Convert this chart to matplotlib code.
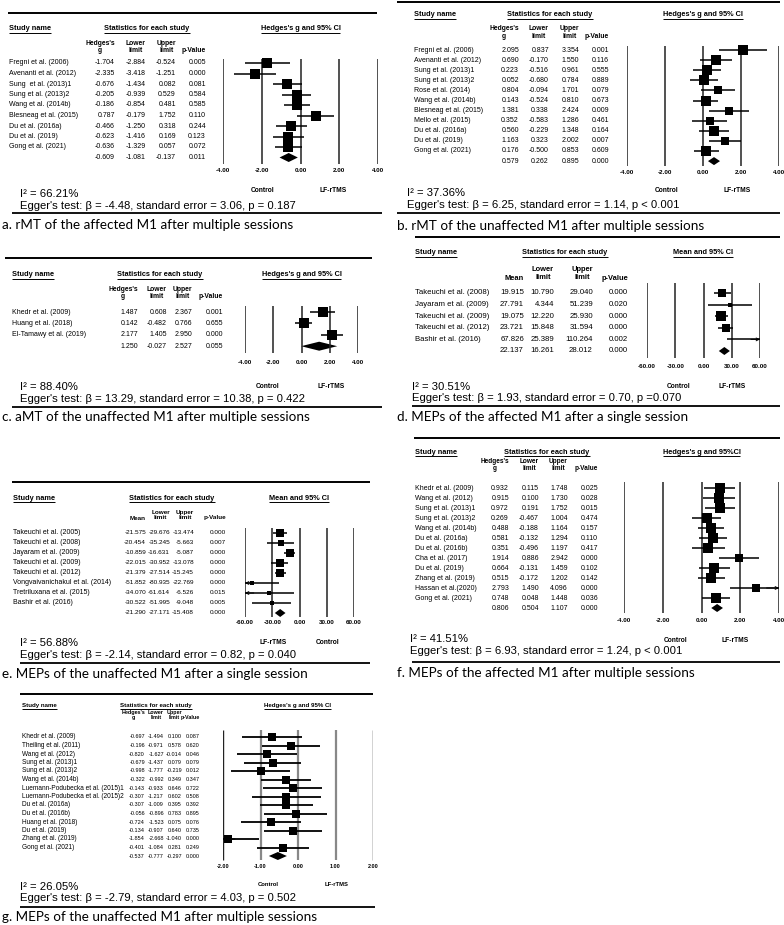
import matplotlib
matplotlib.use("Agg")
import matplotlib.pyplot as plt
from matplotlib.patches import Polygon

plt.rcParams['font.family'] = ['Liberation Sans', 'DejaVu Sans']

# ------------------------------------------------------------------ data
# a. rMT of the affected M1 after multiple sessions
names_a = ["Fregni et al. (2006)", "Avenanti et al. (2012)", "Sung  et al. (2013)1",
           "Sung et al. (2013)2", "Wang et al. (2014b)", "Blesneag et al. (2015)",
           "Du et al. (2016a)", "Du et al. (2019)", "Gong et al. (2021)"]
est_a = [-1.704, -2.335, -0.676, -0.205, -0.186, 0.787, -0.466, -0.623, -0.636]
lo_a = [-2.884, -3.418, -1.434, -0.939, -0.854, -0.179, -1.250, -1.416, -1.329]
hi_a = [-0.524, -1.251, 0.082, 0.529, 0.481, 1.752, 0.318, 0.169, 0.057]
p_a = [0.005, 0.000, 0.081, 0.584, 0.585, 0.110, 0.244, 0.123, 0.072]
wt_a = [1.0, 1.0, 1.0, 1.0, 1.0, 1.0, 1.0, 1.0, 1.0]
sum_a = [-0.609, -1.081, -0.137, 0.011]
i2_a = "I\u00b2 = 66.21%"
egger_a = "Egger's test: \u03b2 = -4.48, standard error = 3.06, p = 0.187"
title_a = "a. rMT of the affected M1 after multiple sessions"

# b. rMT of the unaffected M1 after multiple sessions
names_b = ["Fregni et al. (2006)", "Avenanti et al. (2012)", "Sung et al. (2013)1",
           "Sung et al. (2013)2", "Rose et al. (2014)", "Wang et al. (2014b)",
           "Blesneag et al. (2015)", "Mello et al. (2015)", "Du et al. (2016a)",
           "Du et al. (2019)", "Gong et al. (2021)"]
est_b = [2.095, 0.690, 0.223, 0.052, 0.804, 0.143, 1.381, 0.352, 0.560, 1.163, 0.176]
lo_b = [0.837, -0.170, -0.516, -0.680, -0.094, -0.524, 0.338, -0.583, -0.229, 0.323, -0.500]
hi_b = [3.354, 1.550, 0.961, 0.784, 1.701, 0.810, 2.424, 1.286, 1.348, 2.002, 0.853]
p_b = [0.001, 0.116, 0.555, 0.889, 0.079, 0.673, 0.009, 0.461, 0.164, 0.007, 0.609]
wt_b = [0.95, 0.95, 0.95, 0.95, 0.9, 0.95, 0.8, 0.9, 0.95, 0.9, 0.95]
sum_b = [0.579, 0.262, 0.895, 0.000]
i2_b = "I\u00b2 = 37.36%"
egger_b = "Egger's test: \u03b2 = 6.25, standard error = 1.14, p < 0.001"
title_b = "b. rMT of the unaffected M1 after multiple sessions"

# c. aMT of the unaffected M1 after multiple sessions
names_c = ["Khedr et al. (2009)", "Huang et al. (2018)", "El-Tamawy et al. (2019)"]
est_c = [1.487, 0.142, 2.177]
lo_c = [0.608, -0.482, 1.405]
hi_c = [2.367, 0.766, 2.950]
p_c = [0.001, 0.655, 0.000]
wt_c = [0.95, 0.95, 0.95]
sum_c = [1.250, -0.027, 2.527, 0.055]
i2_c = "I\u00b2 = 88.40%"
egger_c = "Egger's test: \u03b2 = 13.29, standard error = 10.38, p = 0.422"
title_c = "c. aMT of the unaffected M1 after multiple sessions"

# d. MEPs of the affected M1 after a single session
names_d = ["Takeuchi et al. (2008)", "Jayaram et al. (2009)", "Takeuchi et al. (2009)",
           "Takeuchi et al. (2012)", "Bashir et al. (2016)"]
est_d = [19.915, 27.791, 19.075, 23.721, 67.826]
lo_d = [10.790, 4.344, 12.220, 15.848, 25.389]
hi_d = [29.040, 51.239, 25.930, 31.594, 110.264]
p_d = [0.000, 0.020, 0.000, 0.000, 0.002]
wt_d = [0.8, 0.35, 0.95, 0.85, 0.3]
sum_d = [22.137, 16.261, 28.012, 0.000]
i2_d = "I\u00b2 = 30.51%"
egger_d = "Egger's test: \u03b2 = 1.93, standard error = 0.70, p =0.070"
title_d = "d. MEPs of the affected M1 after a single session"

# e. MEPs of the unaffected M1 after a single session
names_e = ["Takeuchi et al. (2005)", "Takeuchi et al. (2008)", "Jayaram et al. (2009)",
           "Takeuchi et al. (2009)", "Takeuchi et al. (2012)",
           "Vongvaivanichakul et al. (2014)", "Tretriluxana et al. (2015)", "Bashir et al. (2016)"]
est_e = [-21.575, -20.454, -10.859, -22.015, -21.379, -51.852, -34.070, -30.522]
lo_e = [-29.676, -35.245, -16.631, -30.952, -27.514, -80.935, -61.614, -51.995]
hi_e = [-13.474, -5.663, -5.087, -13.078, -15.245, -22.769, -6.526, -9.048]
p_e = [0.000, 0.007, 0.000, 0.000, 0.000, 0.000, 0.015, 0.005]
wt_e = [0.8, 0.6, 0.85, 0.8, 0.85, 0.4, 0.4, 0.45]
sum_e = [-21.290, -27.171, -15.408, 0.000]
i2_e = "I\u00b2 = 56.88%"
egger_e = "Egger's test: \u03b2 = -2.14, standard error = 0.82, p = 0.040"
title_e = "e. MEPs of the unaffected M1 after a single session"

# f. MEPs of the affected M1 after multiple sessions
names_f = ["Khedr et al. (2009)", "Wang et al. (2012)", "Sung et al. (2013)1",
           "Sung et al. (2013)2", "Wang et al. (2014b)", "Du et al. (2016a)",
           "Du et al. (2016b)", "Cha et al. (2017)", "Du et al. (2019)",
           "Zhang et al. (2019)", "Hassan et al.(2020)", "Gong et al. (2021)"]
est_f = [0.932, 0.915, 0.972, 0.269, 0.488, 0.581, 0.351, 1.914, 0.664, 0.515, 2.793, 0.748]
lo_f = [0.115, 0.100, 0.191, -0.467, -0.188, -0.132, -0.496, 0.886, -0.131, -0.172, 1.490, 0.048]
hi_f = [1.748, 1.730, 1.752, 1.004, 1.164, 1.294, 1.197, 2.942, 1.459, 1.202, 4.096, 1.448]
p_f = [0.025, 0.028, 0.015, 0.474, 0.157, 0.110, 0.417, 0.000, 0.102, 0.142, 0.000, 0.036]
wt_f = [0.95, 0.95, 0.95, 0.95, 0.95, 0.95, 0.95, 0.9, 0.95, 0.95, 0.9, 0.95]
sum_f = [0.806, 0.504, 1.107, 0.000]
i2_f = "I\u00b2 = 41.51%"
egger_f = "Egger's test: \u03b2 = 6.93, standard error = 1.24, p < 0.001"
title_f = "f. MEPs of the affected M1 after multiple sessions"

# g. MEPs of the unaffected M1 after multiple sessions
names_g = ["Khedr et al. (2009)", "Theiling et al. (2011)", "Wang et al. (2012)",
           "Sung et al. (2013)1", "Sung et al. (2013)2", "Wang et al. (2014b)",
           "Luemann-Podubecka et al. (2015)1", "Luemann-Podubecka et al. (2015)2",
           "Du et al. (2016a)", "Du et al. (2016b)", "Huang et al. (2018)",
           "Du et al. (2019)", "Zhang et al. (2019)", "Gong et al. (2021)"]
est_g = [-0.697, -0.196, -0.820, -0.679, -0.998, -0.322, -0.143, -0.307, -0.307,
         -0.056, -0.724, -0.134, -1.854, -0.401]
lo_g = [-1.494, -0.971, -1.627, -1.437, -1.777, -0.992, -0.933, -1.217, -1.009,
        -0.896, -1.523, -0.907, -2.668, -1.084]
hi_g = [0.100, 0.578, -0.014, 0.079, -0.219, 0.349, 0.646, 0.602, 0.395,
        0.783, 0.075, 0.640, -1.040, 0.281]
p_g = [0.087, 0.620, 0.046, 0.079, 0.012, 0.347, 0.722, 0.508, 0.392,
       0.895, 0.076, 0.735, 0.000, 0.249]
wt_g = [0.95] * 14
sum_g = [-0.537, -0.777, -0.297, 0.000]
i2_g = "I\u00b2 = 26.05%"
egger_g = "Egger's test: \u03b2 = -2.79, standard error = 4.03, p = 0.502"
title_g = "g. MEPs of the unaffected M1 after multiple sessions"

ticks_g4 = [-4, -2, 0, 2, 4]
ticks_m60 = [-60, -30, 0, 30, 60]
ticks_g2 = [-2, -1, 0, 1, 2]
hdr_hedges = ["Hedges's\ng", "Lower\nlimit", "Upper\nlimit", "p-Value"]
hdr_mean = ["Mean", "Lower\nlimit", "Upper\nlimit", "p-Value"]

# ------------------------------------------------------------------ figure
W, H = 784, 925
fig = plt.figure(figsize=(W / 100, H / 100), dpi=100)
base = fig.add_axes([0, 0, 1, 1])
base.set_xlim(0, W)
base.set_ylim(H, 0)
base.axis('off')
R = fig.canvas.get_renderer()
PT = 0.72  # points per pixel

def underline(t, lw=0.7):
    bb = t.get_window_extent(renderer=R)
    y = H - bb.y0 + 0.2
    base.plot([bb.x0, bb.x1], [y, y], color='k', lw=lw, solid_capstyle='butt')

def panel(L, names, est, lo, hi, pv, wt, summ, i2, egger, title, hdrs, ci_hdr, ticks, labs):
    fs = L['fs']
    y, xa, xb = L['rule']
    base.plot([xa, xb], [y, y], color='k', lw=1.4, solid_capstyle='butt')
    t = base.text(L['name_x'], L['hdr'], "Study name", fontsize=L['fsh'], fontweight='bold', va='center')
    underline(t)
    t = base.text(L['stats_cx'], L['hdr'], "Statistics for each study", fontsize=L['fsh'],
                  fontweight='bold', va='center', ha='center')
    underline(t)
    px0, px1 = L['px']
    t = base.text((px0 + px1) / 2, L['hdr'], ci_hdr, fontsize=L['fsh'], fontweight='bold',
                  va='center', ha='center')
    underline(t)
    h1, h2 = L['hh']
    for xr, h in zip(L['cols'], hdrs):
        if "\n" in h:
            base.text(xr, (h1 + h2) / 2, h, fontsize=L['fsc'], fontweight='bold', ha='right',
                      va='center', ma='center', linespacing=L.get('ls', 1.05))
        else:
            base.text(xr, h2, h, fontsize=L['fsc'], fontweight='bold', ha='right', va='center')
    xmin, xmax = ticks[0], ticks[-1]
    ax = fig.add_axes([px0 / W, 0, (px1 - px0) / W, 1])
    ax.set_xlim(xmin, xmax)
    ax.set_ylim(H, 0)
    ax.axis('off')
    v0, v1 = L['vl']
    for tk in ticks:
        col, lw = L['vcol'](tk)
        ax.plot([tk, tk], [v0, v1], color=col, lw=lw, solid_capstyle='butt')
        ax.text(tk, L['tick_y'], f"{tk:.2f}", fontsize=L['fst'], fontweight='bold',
                ha='center', va='center')
    n = len(names)
    fsv = L.get('fsv', fs)
    for i in range(n):
        yy = L['y0'] + i * L['dy']
        base.text(L['name_x'], yy, names[i], fontsize=fs, va='center')
        for xr, v in zip(L['cols'], [est[i], lo[i], hi[i], pv[i]]):
            base.text(xr, yy, f"{v:.3f}", fontsize=fsv, va='center', ha='right')
        a, b = max(lo[i], xmin), min(hi[i], xmax)
        ax.plot([a, b], [yy, yy], color='k', lw=L['cilw'], solid_capstyle='butt')
        if hi[i] > xmax:
            ax.annotate('', xy=(xmax, yy), xytext=(xmax - 0.08 * (xmax - xmin), yy),
                        arrowprops=dict(arrowstyle='->', lw=0.7, color='k', mutation_scale=5,
                                        shrinkA=0, shrinkB=0))
        if lo[i] < xmin:
            ax.annotate('', xy=(xmin, yy), xytext=(xmin + 0.08 * (xmax - xmin), yy),
                        arrowprops=dict(arrowstyle='->', lw=0.7, color='k', mutation_scale=5,
                                        shrinkA=0, shrinkB=0))
        if xmin <= est[i] <= xmax:
            ax.plot(est[i], yy, marker='s', ms=L['ms'] * wt[i] * PT, color='k', mec='k', mew=0)
    yy = L['y0'] + n * L['dy']
    for xr, v in zip(L['cols'], summ):
        base.text(xr, yy, f"{v:.3f}", fontsize=fsv, va='center', ha='right')
    hh = L['dh']
    ax.add_patch(Polygon([(summ[1], yy), (summ[0], yy - hh), (summ[2], yy), (summ[0], yy + hh)],
                         closed=True, color='k', lw=0))
    for x, s in zip(L['labx'], labs):
        base.text(x, L['lab_y'], s, fontsize=L['fsl'], fontweight='bold', ha='center', va='center')
    base.text(L['i2'][0], L['i2'][1], i2, fontsize=8.1, va='center')
    base.text(L['egg'][0], L['egg'][1], egger, fontsize=8.1, va='center')
    y, xa, xb = L['rule2']
    base.plot([xa, xb], [y, y], color='k', lw=1.3, solid_capstyle='butt')
    base.text(L['title'][0], L['title'][1], title, fontsize=L.get('fstitle', 9.7),
              family=['Lato', 'DejaVu Sans'], va='center')

dark = lambda tk: ('#222222', 1.1)
gline = lambda tk: ('#888888', 1.6) if tk in (-1, 0, 1) else ('#222222', 1.0)

common = dict(fs=5.0, fsh=5.3, fsc=4.9, fst=4.5, fsl=4.8, cilw=1.1)

La = dict(common, rule=(13, 8, 377), hdr=29, name_x=9, stats_cx=147, hh=(43, 51),
          cols=[115, 146, 176, 206], y0=63, dy=10.5, px=(223, 378), vl=(59, 164), vcol=dark,
          tick_y=171, labx=[263, 333], lab_y=191, i2=(20, 194), egg=(20, 206),
          rule2=(213, 12, 382), title=(2, 225), ms=10.5, dh=4.5)
Lb = dict(common, rule=(2, 397, 780), hdr=15, name_x=414, stats_cx=550, hh=(28, 37),
          cols=[519, 549, 579, 609], y0=50, dy=10.1, px=(627, 779), vl=(46, 166), vcol=dark,
          tick_y=173, labx=[667, 737], lab_y=191, i2=(407, 193), egg=(407, 205),
          rule2=(213, 397, 780), title=(397, 226), ms=9.5, dh=4.0)
Lc = dict(common, rule=(258, 5, 372), hdr=275, name_x=12, stats_cx=160, hh=(289, 297),
          cols=[138, 167, 192, 223], y0=312, dy=11.4, px=(245, 358), vl=(306, 353), vcol=dark,
          tick_y=363, labx=[268, 331], lab_y=387, i2=(20, 387), egg=(20, 399),
          rule2=(407, 12, 382), title=(2, 417), ms=9.5, dh=4.5)
Ld = dict(common, rule=(237, 415, 780), hdr=253, name_x=415, stats_cx=565, hh=(269, 278),
          cols=[524, 554, 593, 628], y0=293, dy=11.6, px=(647, 760), vl=(283, 358), vcol=dark,
          tick_y=367, labx=[679, 732], lab_y=387, i2=(412, 387), egg=(412, 398),
          rule2=(406, 412, 780), title=(397, 417), ms=9.5, dh=4.0, fs=5.6, fsv=5.6, fsc=5.4)
Le = dict(common, rule=(482, 12, 370), hdr=498, name_x=13, stats_cx=172, hh=(512, 518),
          cols=[146, 170, 194, 226], y0=533, dy=10.0, px=(245, 354), vl=(528, 617), vcol=dark,
          tick_y=623, labx=[273, 328], lab_y=643, i2=(20, 643), egg=(20, 655),
          rule2=(663, 20, 370), title=(2, 674), ms=9.0, dh=4.0, fsv=4.6, fsc=4.6, ls=0.9)
Lf = dict(common, rule=(438, 414, 780), hdr=452, name_x=415, stats_cx=547, hh=(461, 469),
          cols=[509, 539, 568, 598], y0=488, dy=10.0, px=(624, 779), vl=(482, 613), vcol=dark,
          tick_y=621, labx=[676, 735], lab_y=640, i2=(410, 639), egg=(410, 651),
          rule2=(662, 412, 780), title=(397, 673), ms=9.5, dh=4.0, fsc=4.7, ls=0.95)
Lg = dict(common, rule=(694, 20, 373), hdr=706, name_x=22, stats_cx=156, hh=(712, 718),
          cols=[145, 164, 182, 200], y0=737, dy=8.5, px=(223, 373), vl=(730, 860), vcol=gline,
          tick_y=866, labx=[268, 337], lab_y=885, i2=(20, 887), egg=(20, 898),
          rule2=(907, 20, 375), title=(2, 917), ms=9.0, dh=4.0, fs=4.7, fsv=3.95, fsh=4.4,
          fsc=3.9, fst=4.0, fsl=4.2, ls=0.9, cilw=1.3)

panel(La, names_a, est_a, lo_a, hi_a, p_a, wt_a, sum_a, i2_a, egger_a, title_a,
      hdr_hedges, "Hedges's g and 95% CI", ticks_g4, ["Control", "LF-rTMS"])
panel(Lb, names_b, est_b, lo_b, hi_b, p_b, wt_b, sum_b, i2_b, egger_b, title_b,
      hdr_hedges, "Hedges's g and 95% CI", ticks_g4, ["Control", "LF-rTMS"])
panel(Lc, names_c, est_c, lo_c, hi_c, p_c, wt_c, sum_c, i2_c, egger_c, title_c,
      hdr_hedges, "Hedges's g and 95% CI", ticks_g4, ["Control", "LF-rTMS"])
panel(Ld, names_d, est_d, lo_d, hi_d, p_d, wt_d, sum_d, i2_d, egger_d, title_d,
      hdr_mean, "Mean and 95% CI", ticks_m60, ["Control", "LF-rTMS"])
panel(Le, names_e, est_e, lo_e, hi_e, p_e, wt_e, sum_e, i2_e, egger_e, title_e,
      hdr_mean, "Mean and 95% CI", ticks_m60, ["LF-rTMS", "Control"])
panel(Lf, names_f, est_f, lo_f, hi_f, p_f, wt_f, sum_f, i2_f, egger_f, title_f,
      hdr_hedges, "Hedges's g and 95%CI", ticks_g4, ["Control", "LF-rTMS"])
panel(Lg, names_g, est_g, lo_g, hi_g, p_g, wt_g, sum_g, i2_g, egger_g, title_g,
      hdr_hedges, "Hedges's g and 95% CI", ticks_g2, ["Control", "LF-rTMS"])

fig.savefig("out.png", dpi=100, facecolor='white')
